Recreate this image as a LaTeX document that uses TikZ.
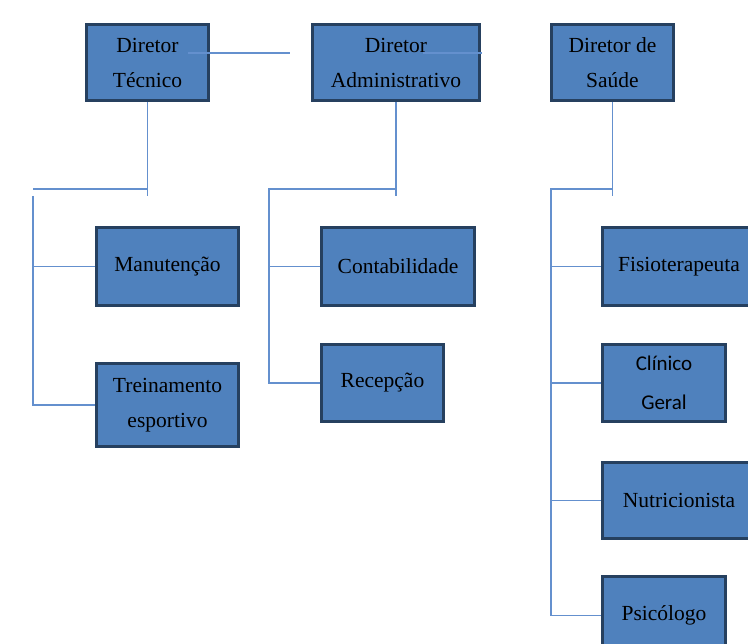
\documentclass[tikz,border=0pt]{standalone}
\usepackage{fontspec}
\setmainfont{Liberation Serif}
\newfontfamily\calibri{Carlito}
\usetikzlibrary{positioning}
\definecolor{azulcaixa}{HTML}{4F81BD}
\definecolor{azulborda}{HTML}{26405F}
\definecolor{azullinha}{HTML}{6490CE}

\begin{document}
\begin{tikzpicture}[x=1pt, y=-1pt, -,
		cargo/.style={draw=azulborda, fill=azulcaixa, line width=3pt, anchor=north west, minimum width=#1, inner sep=0pt, align=center, font=\fontsize{21.5}{35}\selectfont},
		ligacao/.style={draw=azullinha, line width=1.8pt}]
		\useasboundingbox (0,0) rectangle (748,644);
		
		\node[cargo=122, minimum height=76] (tec) at (85,23) {Diretor\\Técnico};
		\node[cargo=167, minimum height=76] (adm) at (311,23) {Diretor\\Administrativo};
		\node[cargo=122, minimum height=76] (sau) at (550,23) {Diretor de\\Saúde};
		
		\node[cargo=142, minimum height=78] (man) at (95,226) {Manutenção};
		\node[cargo=142, minimum height=83] (trei) at (95,362) {Treinamento\\esportivo};
		
		\node[cargo=153, minimum height=78] (con) at (320,226) {Contabilidade};
		\node[cargo=122, minimum height=77] (rec) at (320,343) {Recepção};
		
		\node[cargo=153, minimum height=78] (fis) at (601,226) {Fisioterapeuta};
		\node[cargo=123, minimum height=77, font=\calibri\fontsize{21}{39}\selectfont] (cli) at (601,343) {Clínico\\Geral};
		\node[cargo=153, minimum height=76] (nut) at (601,461) {Nutricionista};
		\node[cargo=123, minimum height=78] (psi) at (601,575) {Psicólogo};
		
		\coordinate (ligA) at (188,53);
		\coordinate (ligB) at (290,53);
		\coordinate (ligC) at (423,53);
		\coordinate (ligD) at (482,53);
		\coordinate (barT) at (33,189);
		\coordinate (barA) at (269,189);
		\coordinate (barS) at (551,189);
		
		\draw[ligacao] (ligA) -- (ligB);
		\draw[ligacao] (ligC) -- (ligD);
		
		\draw[ligacao] (tec.south) -- ++(0,94);
		\draw[ligacao] (barT) -- (barT -| tec.south);
		\draw[ligacao] (barT) ++(0,7) |- (trei.west);
		\draw[ligacao] (man.west) -- (man.west -| barT);
		
		\draw[ligacao] (adm.south) -- ++(0,94);
		\draw[ligacao] (adm.south |- barA) -- (barA) |- (rec.west);
		\draw[ligacao] (con.west) -- (con.west -| barA);
		
		\draw[ligacao] (sau.south) -- ++(0,94);
		\draw[ligacao] (sau.south |- barS) -- (barS) |- (psi.west);
		\draw[ligacao] (fis.west) -- (fis.west -| barS);
		\draw[ligacao] (cli.west) -- (cli.west -| barS);
		\draw[ligacao] (nut.west) -- (nut.west -| barS);
		
	\end{tikzpicture}
\end{document}
